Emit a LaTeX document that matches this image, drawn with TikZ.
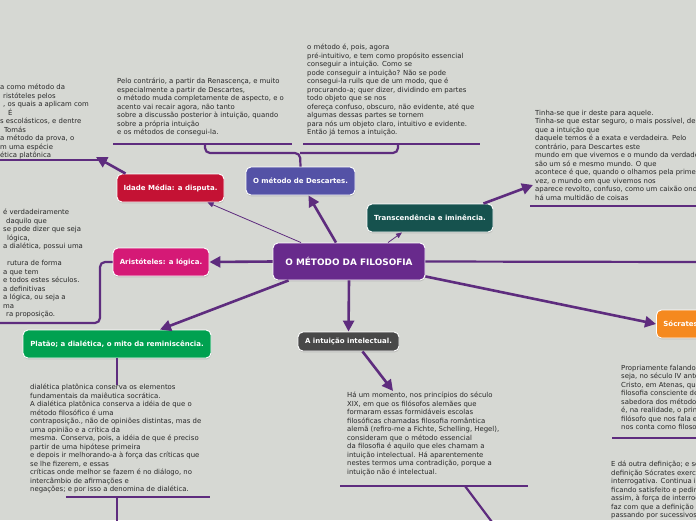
\documentclass[tikz,border=0pt]{standalone}
\usepackage{fontspec}
\setmainfont{DejaVu Sans}
\usetikzlibrary{arrows.meta, calc, shadows}

\definecolor{bgcol}{RGB}{214,216,211}
\definecolor{linkcol}{RGB}{94,44,126}
\definecolor{notecol}{RGB}{40,40,40}
\definecolor{centralcol}{RGB}{104,42,140}
\definecolor{descol}{RGB}{84,82,166}
\definecolor{idadecol}{RGB}{196,18,52}
\definecolor{transcol}{RGB}{22,82,78}
\definecolor{aristcol}{RGB}{213,25,118}
\definecolor{platcol}{RGB}{0,161,80}
\definecolor{intcol}{RGB}{72,72,72}
\definecolor{soccol}{RGB}{245,137,31}

\tikzset{
  idea/.style={rounded corners=5pt, draw=white, line width=0.9pt, text=white,
    font=\fontsize{7}{8}\selectfont\bfseries, minimum height=28pt, inner sep=2pt,
    drop shadow={shadow xshift=0.4pt, shadow yshift=-1.4pt, opacity=0.3}},
  note/.style={anchor=north west, align=left, inner sep=0pt, text=notecol,
    font=\fontsize{6.9}{8.5}\selectfont},
  link/.style={draw=linkcol, line width=2.6pt, -{Triangle[length=11pt,width=11pt]}},
  thinlink/.style={draw=linkcol, line width=0.8pt, -{Triangle[length=6pt,width=5pt]}},
  branch/.style={draw=linkcol, line width=2.2pt, rounded corners=5pt},
  underline/.style={draw=linkcol, line width=1.8pt},
}

\begin{document}
\begin{tikzpicture}[x=1pt, y=-1pt]
\useasboundingbox (0,0) rectangle (696,520);
\fill[bgcol] (0,0) rectangle (696,520);
\clip (0,0) rectangle (696,520);

% texts of the branches
\node[note] (idadenote) at (0,84) {a como método da\\
\hspace{3pt}ristóteles pelos\\
\hspace{3pt}, os quais a aplicam com\\
\hspace{8pt}É\\
s escolásticos, e dentre\\
\hspace{4pt}Tomás\\
a método da prova, o\\
m uma espécie\\
ética platônica};
\node[note] (renasnote) at (117,78) {Pelo contrário, a partir da Renascença, e muito\\
especialmente a partir de Descartes,\\
o método muda completamente de aspecto, e o\\
acento vai recair agora, não tanto\\
sobre a discussão posterior à intuição, quando\\
sobre a própria intuição\\
e os métodos de consegui-la.};
\node[note] (intuinote) at (307,44) {o método é, pois, agora\\
pré-intuitivo, e tem como propósito essencial\\
conseguir a intuição. Como se\\
pode conseguir a intuição? Não se pode\\
consegui-la ruils que de um modo, que é\\
procurando-a; quer dizer, dividindo em partes\\
todo objeto que se nos\\
ofereça confuso, obscuro, não evidente, até que\\
algumas dessas partes se tornem\\
para nós um objeto claro, intuitivo e evidente.\\
Então já temos a intuição.};
\node[note] (transcnote) at (535,110) {Tinha-se que ir deste para aquele.\\
Tinha-se que estar seguro, o mais possível, de\\
que a intuição que\\
daquele temos é a exata e verdadeira. Pelo\\
contrário, para Descartes este\\
mundo em que vivemos e o mundo da verdade\\
são um só e mesmo mundo. O que\\
acontece é que, quando o olhamos pela primeira\\
vez, o mundo em que vivemos nos\\
aparece revolto, confuso, como um caixão onde\\
há uma multidão de coisas};
\node[note] (aristnote) at (1,209) {\hspace{2pt}é verdadeiramente\\
\hspace{5pt}daquilo que\\
\hspace{2pt}se pode dizer que seja\\
\hspace{6pt}lógica,\\
\hspace{2pt}a dialética, possui uma\\
\mbox{}\\
\hspace{6pt}rutura de forma\\
\hspace{2pt}a que tem\\
\hspace{2pt}e todos estes séculos.\\
\hspace{2pt}a definitivas\\
\hspace{2pt}a lógica, ou seja a\\
\hspace{2pt}ma\\
\hspace{5pt}ra proposição.};
\node[note] (platnote) at (30,384) {dialética platônica conserva os elementos\\
fundamentais da maiêutica socrática.\\
A dialética platônica conserva a idéia de que o\\
método filosófico é uma\\
contraposição., não de opiniões distintas, mas de\\
uma opinião e a crítica da\\
mesma. Conserva, pois, a idéia de que é preciso\\
partir de uma hipótese primeira\\
e depois ir melhorando-a à força das críticas que\\
se lhe fizerem, e essas\\
críticas onde melhor se fazem é no diálogo, no\\
intercâmbio de afirmações e\\
negações; e por isso a denomina de dialética.};
\node[note] (intnote) at (347,392) {Há um momento, nos princípios do século\\
XIX, em que os filósofos alemães que\\
formaram essas formidáveis escolas\\
filosóficas chamadas filosofia romântica\\
alemã (refiro-me a Fichte, Schelling, Hegel),\\
consideram que o método essencial\\
da filosofia é aquilo que eles chamam a\\
intuição intelectual. Há aparentemente\\
nestes termos uma contradição, porque a\\
intuição não é intelectual.};
\node[note] (socnote) at (621,365) {Propriamente falando,\\
seja, no século IV antes de\\
Cristo, em Atenas, que\\
filosofia consciente de si\\
sabedora dos métodos\\
é, na realidade, o primeiro\\
filósofo que nos fala e\\
nos conta como filosofa.};
\node[note] (defnote) at (611,461) {E dá outra definição; e se\\
definição Sócrates exerce\\
interrogativa. Continua i\\
ficando satisfeito e pedindo\\
assim, à força de interrogar\\
faz com que a definição\\
passando por sucessivos};

% underlines
\draw[underline] (0,160) -- (107,160);
\draw[underline] (113,144) -- (292,144);
\draw[underline] (303,144) -- (480,144);
\draw[underline] (530,206) -- (696,206);
\draw[underline] (66,497) -- (210,497);
\draw[underline] (340,486) -- (528,486);
\draw[underline] (612,438) -- (696,438);

% ideas
\node[idea, fill=centralcol, minimum width=152pt, minimum height=37pt,
  font=\fontsize{8.9}{10}\selectfont\bfseries] (central) at (349,261.5) {O MÉTODO DA FILOSOFIA};
\node[idea, fill=descol, minimum width=109pt] (descartes) at (300.5,181) {O método de Descartes.};
\node[idea, fill=idadecol, minimum width=107pt] (idade) at (170.5,188) {Idade Média: a disputa.};
\node[idea, fill=transcol, minimum width=126pt] (transc) at (430,218) {Transcendência e iminência.};
\node[idea, fill=aristcol, minimum width=96pt] (arist) at (161,262) {Aristóteles: a lógica.};
\node[idea, fill=platcol, minimum width=188pt] (platao) at (117,344) {Platão; a dialética, o mito da reminiscência.};
\node[idea, fill=intcol, minimum width=101pt, minimum height=19pt] (intuicao) at (348.5,341.5) {A intuição intelectual.};
\node[idea, fill=soccol, anchor=west, inner xsep=7pt] (socrates) at (656,324) {Sócrates: a maiêutica.};

% free ends
\coordinate (idadearrow) at (96,157);
\coordinate (transcarrow) at (533,185);
\coordinate (intarrow) at (393,391);
\coordinate (rightend) at (696,262);
\coordinate (fork) at (300,153);

% connectors
\draw[link] ([xshift=-13pt]central.north) -- ([xshift=8pt]descartes.south);
\draw[thinlink] ([xshift=-48pt]central.north) -- ([xshift=37pt]idade.south);
\draw[thinlink] ([xshift=39pt]central.north) -- ([xshift=-28pt]transc.south);
\draw[link] (central.west) -- (arist.east);
\draw[link] ([xshift=16pt]central.south west) -- ([xshift=43pt]platao.north);
\draw[link] (central.south) -- (intuicao.north);
\draw[branch] (central.east) -- (rightend);
\draw[link] ([yshift=4pt]central.south east) -- (socrates.west);
\draw[link] ([xshift=-10pt]transc.north east) -- (transcarrow);
\draw[link] ([xshift=9pt]idade.north west) -- (idadearrow);
\draw[link] ([xshift=14pt]intuicao.south) -- (intarrow);
\draw[branch] (descartes.north) -- (fork) -| (205,144);
\draw[branch] (fork) -| (398,144);
\draw[branch] (arist.west) -- (100,262) -- (100,323) -- (0,323);
\draw[branch] (platao.south) -- (117,385);
\draw[branch] (117,497) -- (117,522);
\draw[branch] (465,486) -- (492,522);
\end{tikzpicture}
\end{document}
